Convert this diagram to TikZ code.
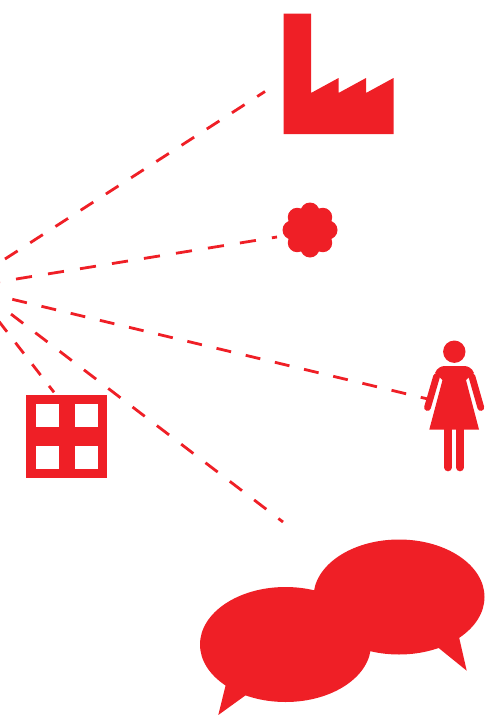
\documentclass[tikz,border=0pt]{standalone}
\usepackage{amsmath,amssymb}
\usepackage{tikz}
\usetikzlibrary{calc}

\definecolor{iconred}{RGB}{239,31,38}
\tikzset{
    iconfill/.style={fill=iconred, draw=none},
    limb/.style={draw=iconred, line width=7.6pt, line cap=round},
    fanline/.style={draw=iconred, line width=2.8pt}
}

\begin{document}
\begin{tikzpicture}[x=1pt, y=-1pt]
    \useasboundingbox (0, 0) rectangle (486, 715);

    % ends of the fan
    \coordinate (fanA) at (5, 259);
    \coordinate (fanB) at (-16, 284.2);
    \coordinate (fanC) at (12.3, 299.3);
    \coordinate (fanD) at (-13.3, 295.5);
    \coordinate (fanE) at (-1.4, 321);
    \coordinate (factoryEnd) at (265, 91.5);
    \coordinate (flowerEnd) at (277, 237);
    \coordinate (womanEnd) at (430, 399.5);
    \coordinate (bubbleEnd) at (283, 522);
    \coordinate (blockEnd) at (54, 392.3);

    \foreach \from/\to/\d in {fanA/factoryEnd/15, fanB/flowerEnd/16.2, fanC/womanEnd/15,
        fanD/bubbleEnd/15.3, fanE/blockEnd/13.7} {
        \draw[fanline, dash pattern=on \d pt off \d pt] (\from) -- (\to);
    }

    % factory
    \fill[iconfill] (283.5, 13.5) -- (311, 13.5) -- (311, 93) -- (338.5, 78) -- (338.5, 93)
        -- (366, 78) -- (366, 93) -- (393.5, 78) -- (393.5, 134) -- (283.5, 134) -- cycle;

    % flower
    \fill[iconfill] (310, 230) circle (20);
    \foreach \a in {0, 45, ..., 315} {
        \fill[iconfill] ($(310, 230) + (\a:18)$) circle (9.5);
    }

    % woman
    \fill[iconfill] (454.3, 351.7) circle (11.2);
    \fill[iconfill] (435, 373) .. controls (437, 368) and (441, 366) .. (445, 366) -- (464, 366)
        .. controls (468, 366) and (472, 368) .. (474, 373) -- (466, 380)
        -- (479, 429.5) -- (429.3, 429.5) -- (442.5, 380) -- cycle;
    \draw[limb, line width=6.8pt] (436.5, 376.7) -- (427.5, 407.5);
    \draw[limb, line width=6.8pt] (472, 376.7) -- (480.8, 407.5);
    \draw[limb] (448, 429) -- (448, 467.5);
    \draw[limb] (460, 429) -- (460, 467.5);

    % block of flats
    \fill[iconfill] (26, 395) rectangle (107.3, 478.3);
    \foreach \x in {36, 75.3} {
        \foreach \y in {404, 446} {
            \fill[white] (\x, \y) rectangle (\x + 22.7, \y + 23.3);
        }
    }

    % speech bubbles
    \fill[iconfill] (399, 597) ellipse [x radius=85.5, y radius=57.5];
    \fill[iconfill] (459, 637) -- (466.7, 670.7) -- (438.3, 647.7) -- cycle;
    \fill[iconfill] (285.5, 644.5) ellipse [x radius=85.5, y radius=57.5];
    \fill[iconfill] (225.7, 685) -- (218.3, 715) -- (246, 695) -- cycle;
\end{tikzpicture}
\end{document}
